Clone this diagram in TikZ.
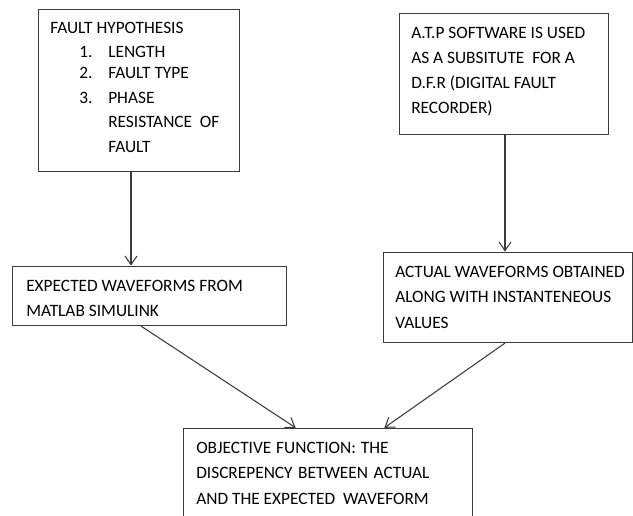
\documentclass[tikz,border=0pt]{standalone}
\usepackage{fontspec}
\setmainfont{Carlito}
\usetikzlibrary{arrows.meta}
\definecolor{linegray}{HTML}{3C3C3C}
\tikzset{
  box/.style={draw=linegray, line width=0.8pt, fill=none, inner sep=0pt, anchor=north west},
  txt/.style={anchor=base west, inner sep=0pt, font=\fontsize{13pt}{15pt}\selectfont, text=black},
  conn/.style={draw=linegray, line width=0.8pt, -{Straight Barb[length=6.5pt, width=9pt, line width=0.8pt]}, shorten >=0.3pt}
}
\begin{document}
\begin{tikzpicture}[x=0.75pt, y=-0.75pt]
\useasboundingbox (0,0) rectangle (633,515);
\clip (0,0) rectangle (633,515);
% boxes
\node[box, minimum width=150.75pt, minimum height=121.5pt] (b1) at (38,9) {};
\node[box, minimum width=156.75pt, minimum height=90.75pt] (b2) at (399,13) {};
\node[box, minimum width=205.5pt, minimum height=44.25pt] (b3) at (12,266) {};
\node[box, minimum width=186.75pt, minimum height=67.5pt] (b4) at (383,252) {};
\node[box, minimum width=216.75pt, minimum height=80pt] (b5) at (183,428) {};
% box 1 text
\node[txt] (t11) at (50,33) {FAULT HYPOTHESIS};
\node[txt] (t12n) at (79,57) {1.};
\node[txt] (t12) at (108,57) {LENGTH};
\node[txt] (t13n) at (79,78) {2.};
\node[txt] (t13) at (108,78) {FAULT TYPE};
\node[txt] (t14n) at (79,103) {3.};
\node[txt] (t14) at (108,103) {PHASE};
\node[txt] (t15) at (108,127) {RESISTANCE\ \ OF};
\node[txt] (t16) at (108,152) {FAULT};
% box 2 text
\node[txt] (t21) at (411,38) {A.T.P SOFTWARE IS USED};
\node[txt] (t22) at (411,63) {AS A SUBSITUTE\ \ FOR A};
\node[txt] (t23) at (411,88) {D.F.R (DIGITAL FAULT};
\node[txt] (t24) at (411,113) {RECORDER)};
% box 3 text
\node[txt] (t31) at (26,291) {EXPECTED WAVEFORMS FROM};
\node[txt] (t32) at (26,316) {MATLAB SIMULINK};
% box 4 text
\node[txt] (t41) at (395,277) {ACTUAL WAVEFORMS OBTAINED};
\node[txt] (t42) at (395,302) {ALONG WITH INSTANTENEOUS};
\node[txt] (t43) at (395,328) {VALUES};
% box 5 text
\node[txt] (t51) at (196,453) {OBJECTIVE\hspace{0.28em}FUNCTION:\hspace{0.28em}THE};
\node[txt] (t52) at (196,478) {DISCREPENCY\hspace{0.32em}BETWEEN\hspace{0.32em}ACTUAL};
\node[txt] (t53) at (196,504) {AND THE EXPECTED\ \ WAVEFORM};
% connectors
\draw[conn] (b1.south -| 131,0) -- (b3.north -| 131,0);
\draw[conn] (b2.south -| 505,0) -- (b4.north -| 505,0);
\draw[conn] (b3.south -| 141,0) -- (b5.north -| 296,0);
\draw[conn] (b4.south -| 505,0) -- (b5.north -| 384,0);
\end{tikzpicture}
\end{document}
